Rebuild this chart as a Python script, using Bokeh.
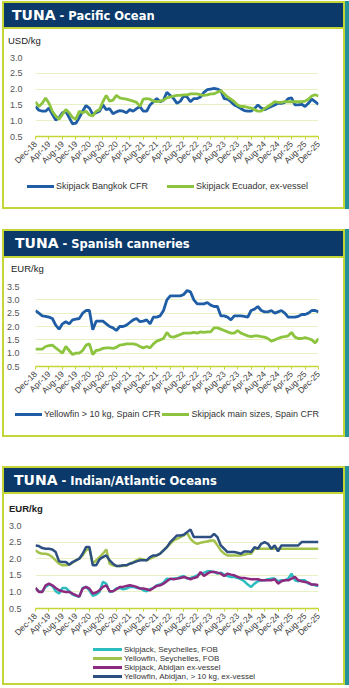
from math import pi
from bokeh.plotting import figure
from bokeh.layouts import column
from bokeh.models import Range1d, FixedTicker, Div, NumeralTickFormatter
from bokeh.embed import file_html
from bokeh.resources import INLINE

# ---------------- data ----------------
x_tick_labels = ["Dec-18", "Apr-19", "Aug-19", "Dec-19", "Apr-20", "Aug-20", "Dec-20",
                 "Apr-21", "Aug-21", "Dec-21", "Apr-22", "Aug-22", "Dec-22", "Apr-23",
                 "Aug-23", "Dec-23", "Apr-24", "Aug-24", "Dec-24", "Apr-25", "Aug-25",
                 "Dec-25"]
month_index = list(range(85))          # Dec-18 ... Dec-25, monthly
x_tick_pos = list(range(0, 85, 4))

# Pacific Ocean (USD/kg)
skj_bangkok = [1.45, 1.33, 1.30, 1.30, 1.40, 1.20, 1.02, 1.10, 1.25, 1.30,
               1.10, 0.90, 0.92, 1.10, 1.30, 1.48, 1.40, 1.20, 1.25, 1.30,
               1.50, 1.35, 1.38, 1.22, 1.28, 1.32, 1.30, 1.25, 1.35, 1.30,
               1.38, 1.45, 1.30, 1.30, 1.50, 1.60, 1.70, 1.60, 1.65, 1.90,
               1.80, 1.70, 1.55, 1.62, 1.78, 1.75, 1.60, 1.70, 1.70, 1.75,
               1.90, 1.98, 2.00, 2.02, 2.00, 1.95, 1.70, 1.68, 1.60, 1.50,
               1.45, 1.38, 1.32, 1.30, 1.30, 1.38, 1.50, 1.40, 1.35, 1.40,
               1.45, 1.50, 1.55, 1.55, 1.58, 1.70, 1.72, 1.50, 1.50, 1.52,
               1.45, 1.55, 1.68, 1.60, 1.52]
skj_ecuador = [1.60, 1.45, 1.55, 1.72, 1.55, 1.30, 1.15, 1.05, 1.20, 1.35,
               1.25, 1.10, 1.05, 1.30, 1.25, 1.30, 1.18, 1.15, 1.30, 1.35,
               1.60, 1.80, 1.62, 1.65, 1.80, 1.72, 1.70, 1.68, 1.65, 1.62,
               1.58, 1.45, 1.68, 1.70, 1.68, 1.62, 1.60, 1.62, 1.65, 1.72,
               1.75, 1.78, 1.80, 1.80, 1.82, 1.82, 1.85, 1.85, 1.85, 1.82,
               1.80, 1.82, 1.85, 1.85, 1.90, 1.95, 1.85, 1.75, 1.68, 1.60,
               1.50, 1.45, 1.45, 1.42, 1.40, 1.35, 1.30, 1.30, 1.38, 1.45,
               1.52, 1.60, 1.58, 1.58, 1.60, 1.60, 1.60, 1.60, 1.60, 1.60,
               1.62, 1.68, 1.78, 1.82, 1.78]

# Spanish canneries (EUR/kg)
yft_spain = [2.60, 2.50, 2.40, 2.38, 2.35, 2.30, 2.05, 1.90, 2.10, 2.18,
             2.10, 2.25, 2.28, 2.30, 2.50, 2.60, 2.60, 1.88, 2.20, 2.20,
             2.20, 2.10, 2.00, 1.95, 1.85, 2.00, 2.00, 2.05, 2.15, 2.25,
             2.30, 2.18, 2.20, 2.25, 2.10, 2.35, 2.35, 2.40, 2.60, 3.00,
             3.15, 3.15, 3.15, 3.15, 3.20, 3.35, 3.30, 3.00, 2.85, 2.85,
             2.85, 2.90, 2.80, 2.75, 2.75, 2.40, 2.40, 2.35, 2.25, 2.40,
             2.40, 2.40, 2.38, 2.35, 2.60, 2.65, 2.75, 2.60, 2.55, 2.55,
             2.60, 2.50, 2.55, 2.60, 2.50, 2.35, 2.35, 2.35, 2.38, 2.45,
             2.45, 2.50, 2.60, 2.60, 2.55]
skj_spain = [1.15, 1.15, 1.15, 1.25, 1.28, 1.30, 1.20, 1.10, 1.00, 1.25,
             1.10, 0.95, 1.00, 1.00, 1.10, 1.30, 1.35, 0.95, 1.10, 1.12,
             1.18, 1.20, 1.20, 1.18, 1.22, 1.30, 1.32, 1.35, 1.35, 1.35,
             1.32, 1.25, 1.20, 1.25, 1.20, 1.35, 1.45, 1.50, 1.55, 1.78,
             1.62, 1.60, 1.65, 1.70, 1.75, 1.75, 1.75, 1.78, 1.75, 1.80,
             1.78, 1.80, 1.80, 1.95, 1.95, 1.90, 1.85, 1.80, 1.75, 1.75,
             1.85, 1.75, 1.70, 1.65, 1.62, 1.65, 1.65, 1.62, 1.60, 1.55,
             1.45, 1.50, 1.55, 1.60, 1.62, 1.65, 1.78, 1.60, 1.55, 1.55,
             1.58, 1.55, 1.50, 1.38, 1.55]

# Indian / Atlantic Oceans (EUR/kg)
skj_seychelles = [1.10, 1.02, 1.00, 1.15, 1.22, 1.18, 1.02, 0.95, 1.12, 1.12,
                  1.02, 0.92, 0.88, 0.85, 1.12, 1.15, 1.05, 0.88, 0.92, 1.00,
                  1.30, 1.25, 1.00, 1.02, 1.10, 1.12, 1.08, 1.10, 1.15, 1.15,
                  1.12, 1.12, 1.05, 1.02, 1.08, 1.12, 1.20, 1.22, 1.28, 1.40,
                  1.38, 1.40, 1.40, 1.45, 1.48, 1.40, 1.42, 1.45, 1.50, 1.55,
                  1.58, 1.62, 1.62, 1.60, 1.55, 1.58, 1.52, 1.48, 1.45, 1.45,
                  1.42, 1.38, 1.32, 1.22, 1.15, 1.25, 1.32, 1.35, 1.35, 1.38,
                  1.40, 1.40, 1.32, 1.35, 1.35, 1.40, 1.55, 1.35, 1.32, 1.35,
                  1.35, 1.25, 1.22, 1.20, 1.18]
yft_seychelles = [2.25, 2.18, 2.15, 2.15, 2.12, 2.05, 1.95, 1.85, 1.80, 1.80,
                  1.82, 1.88, 1.95, 2.00, 2.10, 2.25, 2.30, 1.85, 1.95, 2.05,
                  2.15, 2.28, 1.85, 1.80, 1.78, 1.78, 1.78, 1.80, 1.85, 1.90,
                  1.95, 2.00, 1.98, 1.95, 2.00, 2.05, 2.10, 2.15, 2.25, 2.35,
                  2.45, 2.55, 2.60, 2.65, 2.70, 2.78, 2.60, 2.50, 2.45, 2.48,
                  2.50, 2.52, 2.55, 2.55, 2.40, 2.25, 2.15, 2.10, 2.10, 2.10,
                  2.10, 2.10, 2.12, 2.15, 2.15, 2.30, 2.30, 2.30, 2.30, 2.30,
                  2.30, 2.30, 2.30, 2.30, 2.30, 2.30, 2.30, 2.30, 2.30, 2.30,
                  2.30, 2.30, 2.30, 2.30, 2.30]
skj_abidjan = [1.12, 1.00, 1.00, 1.20, 1.25, 1.20, 1.12, 1.05, 1.02, 1.00,
               1.00, 0.95, 0.90, 0.86, 1.10, 1.15, 1.10, 0.95, 0.98, 1.05,
               1.15, 1.20, 1.02, 1.02, 1.08, 1.15, 1.15, 1.18, 1.20, 1.18,
               1.15, 1.10, 1.10, 1.08, 1.05, 1.12, 1.18, 1.20, 1.25, 1.32,
               1.40, 1.38, 1.40, 1.42, 1.45, 1.42, 1.38, 1.42, 1.45, 1.60,
               1.48, 1.55, 1.60, 1.60, 1.58, 1.55, 1.48, 1.55, 1.52, 1.50,
               1.45, 1.42, 1.42, 1.40, 1.38, 1.38, 1.38, 1.35, 1.35, 1.35,
               1.35, 1.38, 1.25, 1.32, 1.35, 1.35, 1.40, 1.45, 1.35, 1.32,
               1.30, 1.28, 1.22, 1.22, 1.20]
yft_abidjan = [2.40, 2.38, 2.32, 2.30, 2.30, 2.28, 2.20, 1.92, 1.90, 1.90,
               1.82, 1.90, 1.95, 2.00, 2.15, 2.35, 2.35, 1.80, 1.80, 1.98,
               2.05, 2.10, 1.95, 1.85, 1.78, 1.78, 1.80, 1.80, 1.85, 1.88,
               1.92, 1.95, 1.95, 1.95, 2.05, 2.10, 2.10, 2.15, 2.25, 2.35,
               2.50, 2.60, 2.70, 2.70, 2.72, 2.80, 2.88, 2.65, 2.65, 2.65,
               2.65, 2.65, 2.65, 2.75, 2.65, 2.40, 2.30, 2.20, 2.20, 2.20,
               2.18, 2.15, 2.22, 2.22, 2.20, 2.35, 2.30, 2.45, 2.50, 2.45,
               2.30, 2.40, 2.22, 2.40, 2.40, 2.40, 2.40, 2.40, 2.40, 2.50,
               2.50, 2.50, 2.50, 2.50, 2.50]

# ---------------- style ----------------
PW = 343          # panel width
NAVY = "#0b3a6a"
LIME = "#c3d636"
TEAL_SHADOW = "#23929b"
GRID = "#e9f0c4"
BLUE = "#1f5ea6"
GREEN = "#8cc43f"
C_SKJ_SEY = "#2bbdbf"
C_YFT_SEY = "#a2c24b"
C_SKJ_ABJ = "#8c2a80"
C_YFT_ABJ = "#2e4f82"
FONT = "Liberation Sans"
SHADOW = "4px 0px 0px 0px " + TEAL_SHADOW


def top_div(bar_h, white_h, word, rest, tx, unit, ux, upad, ubold, mtop):
    html = (
        '<div style="width:%dpx;height:%dpx;box-sizing:border-box;background:%s;'
        'border:2px solid %s;color:white;font-family:\'DejaVu Sans\';font-weight:bold;'
        'white-space:nowrap;padding-left:%dpx;line-height:%dpx;">'
        '<span style="font-size:14px;">%s</span>'
        '<span style="font-size:11.5px;">&nbsp;%s</span></div>'
        '<div style="width:%dpx;height:%dpx;box-sizing:border-box;background:white;'
        'border-left:2px solid %s;border-right:2px solid %s;padding-left:%dpx;padding-top:%dpx;'
        'font-family:\'Liberation Sans\';font-size:9.5px;line-height:9px;color:#222222;'
        'font-weight:%s;white-space:nowrap;">%s</div>'
    ) % (PW, bar_h, NAVY, LIME, tx, bar_h - 4, word, rest, PW, white_h, LIME, LIME, ux, upad,
         "bold" if ubold else "normal", unit)
    return Div(text=html, width=PW, height=bar_h + white_h, margin=(mtop, 0, 0, 2),
               styles={"box-shadow": SHADOW})


def legend_div(height, entries, pad_left, pad_top, font_size, gap, vertical, line_w):
    items = []
    for label, color in entries:
        items.append('<span style="display:inline-block;width:%dpx;height:3px;background:%s;'
                     'vertical-align:middle;"></span><span style="margin-left:2px;'
                     'vertical-align:middle;">%s</span>' % (line_w, color, label))
    if vertical:
        inner = "".join('<div style="height:9px;line-height:9px;">%s</div>' % it for it in items)
    else:
        sep = '<span style="display:inline-block;width:%dpx;"></span>' % gap
        inner = '<div style="height:9px;line-height:9px;">%s</div>' % sep.join(items)
    html = ('<div style="width:%dpx;height:%dpx;box-sizing:border-box;background:white;'
            'border:2px solid %s;border-top:none;padding-left:%dpx;padding-top:%dpx;'
            'font-family:\'Liberation Sans\';font-size:%s;color:#333333;white-space:nowrap;">'
            '%s</div>') % (PW, height, LIME, pad_left, pad_top, font_size, inner)
    return Div(text=html, width=PW, height=height, margin=(0, 0, 0, 2),
               styles={"box-shadow": SHADOW})


def chart(height, frame, yrange, yticks, std):
    L, R, T, B = frame
    p = figure(width=PW, height=height, x_range=Range1d(0, 84), y_range=Range1d(*yrange),
               output_backend="svg", toolbar_location=None,
               min_border_left=L, min_border_right=PW - R, min_border_top=T,
               min_border_bottom=height - B, outline_line_color=None,
               background_fill_color="white", border_fill_color=None,
               margin=(0, 0, 0, 2),
               styles={"background-color": "white",
                       "box-shadow": ("inset 2px 0px 0px 0px %s, inset -2px 0px 0px 0px %s, %s"
                                      % (LIME, LIME, SHADOW))})
    p.yaxis.ticker = FixedTicker(ticks=yticks)
    p.yaxis.formatter = NumeralTickFormatter(format="0.0")
    p.yaxis.axis_line_color = None
    p.yaxis.major_tick_line_color = None
    p.yaxis.minor_tick_line_color = None
    p.yaxis.major_label_standoff = std
    p.yaxis.major_label_text_font = FONT
    p.yaxis.major_label_text_font_size = "9px"
    p.yaxis.major_label_text_color = "#555555"
    p.xaxis.ticker = FixedTicker(ticks=x_tick_pos)
    p.xaxis.major_label_overrides = dict(zip(x_tick_pos, x_tick_labels))
    p.xaxis.major_label_orientation = pi / 4
    p.xaxis.major_label_text_font = FONT
    p.xaxis.major_label_text_font_size = "8.5px"
    p.xaxis.major_label_text_color = "#404040"
    p.xaxis.major_label_standoff = 3
    p.xaxis.axis_line_color = LIME
    p.xaxis.axis_line_width = 1.5
    p.xaxis.major_tick_line_color = LIME
    p.xaxis.major_tick_out = 3
    p.xaxis.major_tick_in = 0
    p.xaxis.minor_tick_line_color = None
    p.xgrid.grid_line_color = None
    p.ygrid.grid_line_color = GRID
    return p


# ---- Panel 1 : Pacific Ocean ----
d1 = top_div(28, 18, "TUNA", "- Pacific Ocean", 8, "USD/kg", 4, 7, False, 1)
p1 = chart(125, (28, 316, 10, 89), (0.5, 3.0), [0.5, 1.0, 1.5, 2.0, 2.5, 3.0], 7)
p1.line(month_index, skj_bangkok, line_color=BLUE, line_width=2.8)
p1.line(month_index, skj_ecuador, line_color=GREEN, line_width=2.8)
l1 = legend_div(37, [("Skipjack Bangkok CFR", BLUE), ("Skipjack Ecuador, ex-vessel", GREEN)],
                23, 10, "9px", 19, False, 27)

# ---- Panel 2 : Spanish canneries ----
d2 = top_div(29, 18, "TUNA", "- Spanish canneries", 11, "EUR/kg", 7, 6, False, 20)
p2 = chart(126, (33, 318, 10, 90), (0.5, 3.5), [0.5, 1.0, 1.5, 2.0, 2.5, 3.0, 3.5], 10)
p2.line(month_index, yft_spain, line_color=BLUE, line_width=2.8)
p2.line(month_index, skj_spain, line_color=GREEN, line_width=2.8)
l2 = legend_div(35, [("Yellowfin &gt; 10 kg, Spain CFR", BLUE),
                     ("Skipjack main sizes, Spain CFR", GREEN)],
                11, 8, "9px", 2, False, 27)

# ---- Panel 3 : Indian / Atlantic Oceans ----
d3 = top_div(28, 21, "TUNA", "- Indian/Atlantic Oceans", 10, "EUR/kg", 5, 10, True, 29)
p3 = chart(128, (31, 316, 10, 94), (0.5, 3.0), [0.5, 1.0, 1.5, 2.0, 2.5, 3.0], 8)
p3.line(month_index, skj_seychelles, line_color=C_SKJ_SEY, line_width=2.5)
p3.line(month_index, yft_seychelles, line_color=C_YFT_SEY, line_width=2.5)
p3.line(month_index, skj_abidjan, line_color=C_SKJ_ABJ, line_width=2.5)
p3.line(month_index, yft_abidjan, line_color=C_YFT_ABJ, line_width=2.5)
l3 = legend_div(42, [("Skipjack, Seychelles, FOB", C_SKJ_SEY),
                     ("Yellowfin, Seychelles, FOB", C_YFT_SEY),
                     ("Skipjack, Abidjan ex-vessel", C_SKJ_ABJ),
                     ("Yellowfin, Abidjan, &gt; 10 kg, ex-vessel", C_YFT_ABJ)],
                89, 2, "8px", 0, True, 29)

page = column(d1, p1, l1, d2, p2, l2, d3, p3, l3, spacing=0)
open("out.html", "w").write(file_html(page, INLINE))
